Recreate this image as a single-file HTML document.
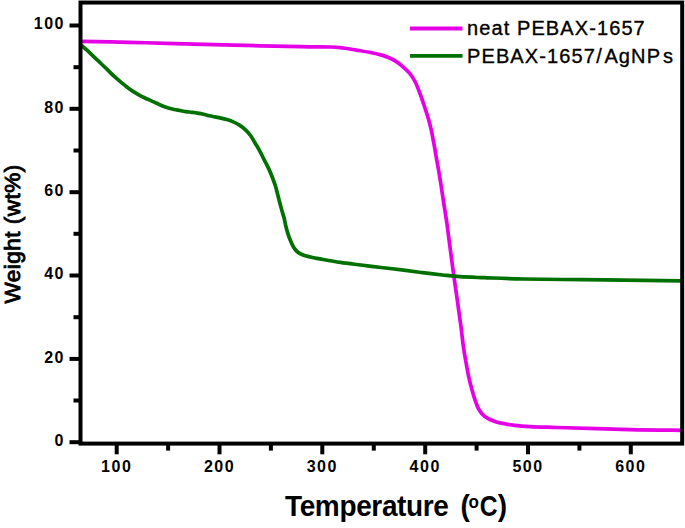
<!DOCTYPE html>
<html><head><meta charset="utf-8"><style>
html,body{margin:0;padding:0;background:#fff;}
svg{display:block;}
text{font-family:"Liberation Sans",sans-serif;}
</style></head><body>
<svg width="685" height="528" viewBox="0 0 685 528">
<rect width="685" height="528" fill="#fff"/>
<path d="M81.00,41.30 C89.00,41.47 113.33,41.92 129.00,42.30 C144.67,42.68 157.50,43.12 175.00,43.60 C192.50,44.08 213.00,44.70 234.00,45.20 C255.00,45.70 285.00,46.30 301.00,46.60 C317.00,46.90 322.98,46.77 330.00,47.00 C337.02,47.23 338.72,47.48 343.10,48.00 C347.48,48.52 351.92,49.38 356.30,50.10 C360.68,50.82 365.02,51.42 369.40,52.30 C373.78,53.18 379.32,54.48 382.60,55.40 C385.88,56.32 386.93,56.85 389.10,57.80 C391.27,58.75 393.37,59.68 395.60,61.10 C397.83,62.52 400.18,64.28 402.50,66.30 C404.82,68.32 407.42,70.67 409.50,73.20 C411.58,75.73 413.25,78.12 415.00,81.50 C416.75,84.88 418.45,89.42 420.00,93.50 C421.55,97.58 422.95,101.95 424.30,106.00 C425.65,110.05 426.98,113.98 428.10,117.80 C429.22,121.62 430.20,125.48 431.00,128.90 C431.80,132.32 432.23,134.83 432.90,138.30 C433.57,141.77 434.45,146.58 435.00,149.70 C435.55,152.82 435.60,153.57 436.20,157.00 C436.80,160.43 437.78,165.55 438.60,170.30 C439.42,175.05 440.32,180.50 441.10,185.50 C441.88,190.50 442.35,194.10 443.30,200.30 C444.25,206.50 445.72,215.17 446.80,222.70 C447.88,230.23 448.80,237.92 449.80,245.50 C450.80,253.08 451.77,260.63 452.80,268.20 C453.83,275.77 454.88,282.95 456.00,290.90 C457.12,298.85 458.60,309.38 459.50,315.90 C460.40,322.42 460.77,325.00 461.40,330.00 C462.03,335.00 462.55,340.60 463.30,345.90 C464.05,351.20 464.97,356.50 465.90,361.80 C466.83,367.10 467.90,373.07 468.90,377.70 C469.90,382.33 470.90,385.95 471.90,389.60 C472.90,393.25 473.73,396.28 474.90,399.60 C476.07,402.92 477.25,406.68 478.90,409.50 C480.55,412.32 482.15,414.50 484.80,416.50 C487.45,418.50 491.48,420.28 494.80,421.50 C498.12,422.72 501.40,423.15 504.70,423.80 C508.00,424.45 510.38,424.93 514.60,425.40 C518.82,425.87 522.93,426.25 530.00,426.60 C537.07,426.95 540.33,427.00 557.00,427.50 C573.67,428.00 609.25,429.13 630.00,429.60 C650.75,430.07 672.92,430.18 681.50,430.30" fill="none" stroke="#e600e6" stroke-width="3.7" stroke-linejoin="round"/>
<path d="M81.50,45.20 C82.50,46.12 84.93,48.28 87.50,50.70 C90.07,53.12 93.75,56.70 96.90,59.70 C100.05,62.70 103.55,65.95 106.40,68.70 C109.25,71.45 111.45,73.85 114.00,76.20 C116.55,78.55 119.45,80.92 121.70,82.80 C123.95,84.68 125.55,86.03 127.50,87.50 C129.45,88.97 131.45,90.33 133.40,91.60 C135.35,92.87 137.27,94.03 139.20,95.10 C141.13,96.17 143.05,97.08 145.00,98.00 C146.95,98.92 148.95,99.72 150.90,100.60 C152.85,101.48 154.75,102.40 156.70,103.30 C158.65,104.20 160.65,105.22 162.60,106.00 C164.55,106.78 166.47,107.42 168.40,108.00 C170.33,108.58 172.27,109.08 174.20,109.50 C176.13,109.92 178.05,110.15 180.00,110.50 C181.95,110.85 183.95,111.30 185.90,111.60 C187.85,111.90 189.77,112.05 191.70,112.30 C193.63,112.55 195.55,112.78 197.50,113.10 C199.45,113.42 201.45,113.75 203.40,114.20 C205.35,114.65 207.27,115.35 209.20,115.80 C211.13,116.25 213.05,116.52 215.00,116.90 C216.95,117.28 218.95,117.65 220.90,118.10 C222.85,118.55 224.75,119.02 226.70,119.60 C228.65,120.18 230.65,120.78 232.60,121.60 C234.55,122.42 236.47,123.33 238.40,124.50 C240.33,125.67 242.18,126.77 244.20,128.60 C246.22,130.43 248.67,133.07 250.50,135.50 C252.33,137.93 253.67,140.65 255.20,143.20 C256.73,145.75 258.20,148.03 259.70,150.80 C261.20,153.57 262.68,156.78 264.20,159.80 C265.72,162.82 267.40,165.87 268.80,168.90 C270.20,171.93 271.47,175.07 272.60,178.00 C273.73,180.93 274.73,183.67 275.60,186.50 C276.47,189.33 277.07,192.17 277.80,195.00 C278.53,197.83 279.28,200.78 280.00,203.50 C280.72,206.22 281.40,208.82 282.10,211.30 C282.80,213.78 283.60,216.03 284.20,218.40 C284.80,220.77 285.13,223.13 285.70,225.50 C286.27,227.87 286.85,230.18 287.60,232.60 C288.35,235.02 289.22,237.60 290.20,240.00 C291.18,242.40 292.37,245.08 293.50,247.00 C294.63,248.92 295.42,250.18 297.00,251.50 C298.58,252.82 300.40,253.90 303.00,254.90 C305.60,255.90 309.77,256.83 312.60,257.50 C315.43,258.17 315.37,258.08 320.00,258.90 C324.63,259.72 333.58,261.38 340.40,262.40 C347.22,263.42 354.08,264.15 360.90,265.00 C367.72,265.85 374.48,266.68 381.30,267.50 C388.12,268.32 394.98,269.05 401.80,269.90 C408.62,270.75 415.40,271.75 422.20,272.60 C429.00,273.45 436.30,274.32 442.60,275.00 C448.90,275.68 453.10,276.25 460.00,276.70 C466.90,277.15 473.50,277.32 484.00,277.70 C494.50,278.08 506.50,278.67 523.00,279.00 C539.50,279.33 563.00,279.48 583.00,279.70 C603.00,279.92 626.58,280.10 643.00,280.30 C659.42,280.50 675.08,280.80 681.50,280.90" fill="none" stroke="#007000" stroke-width="3.7" stroke-linejoin="round"/>
<g stroke="#000" stroke-width="4" fill="none">
<rect x="80.5" y="2.55" width="601.7" height="441.05"/>
<line x1="69.5" y1="442.2" x2="80.5" y2="442.2"/>
<line x1="73.5" y1="400.5" x2="80.5" y2="400.5"/>
<line x1="69.5" y1="358.9" x2="80.5" y2="358.9"/>
<line x1="73.5" y1="317.2" x2="80.5" y2="317.2"/>
<line x1="69.5" y1="275.5" x2="80.5" y2="275.5"/>
<line x1="73.5" y1="233.8" x2="80.5" y2="233.8"/>
<line x1="69.5" y1="192.2" x2="80.5" y2="192.2"/>
<line x1="73.5" y1="150.5" x2="80.5" y2="150.5"/>
<line x1="69.5" y1="108.8" x2="80.5" y2="108.8"/>
<line x1="73.5" y1="67.2" x2="80.5" y2="67.2"/>
<line x1="69.5" y1="25.5" x2="80.5" y2="25.5"/>
<line x1="116.7" y1="443.6" x2="116.7" y2="454.3"/>
<line x1="168.1" y1="443.6" x2="168.1" y2="450.6"/>
<line x1="219.5" y1="443.6" x2="219.5" y2="454.3"/>
<line x1="270.9" y1="443.6" x2="270.9" y2="450.6"/>
<line x1="322.3" y1="443.6" x2="322.3" y2="454.3"/>
<line x1="373.8" y1="443.6" x2="373.8" y2="450.6"/>
<line x1="425.2" y1="443.6" x2="425.2" y2="454.3"/>
<line x1="476.6" y1="443.6" x2="476.6" y2="450.6"/>
<line x1="528.0" y1="443.6" x2="528.0" y2="454.3"/>
<line x1="579.4" y1="443.6" x2="579.4" y2="450.6"/>
<line x1="630.8" y1="443.6" x2="630.8" y2="454.3"/>
</g>
<g font-size="16" font-weight="bold" letter-spacing="1.5" fill="#000">
<text x="65" y="29.1" text-anchor="end">100</text>
<text x="65" y="112.9" text-anchor="end">80</text>
<text x="65" y="195.6" text-anchor="end">60</text>
<text x="65" y="279.1" text-anchor="end">40</text>
<text x="65" y="363.2" text-anchor="end">20</text>
<text x="65" y="445.6" text-anchor="end">0</text>
<text x="116.7" y="471.6" text-anchor="middle">100</text>
<text x="219.5" y="471.6" text-anchor="middle">200</text>
<text x="322.3" y="471.6" text-anchor="middle">300</text>
<text x="425.2" y="471.6" text-anchor="middle">400</text>
<text x="528.0" y="471.6" text-anchor="middle">500</text>
<text x="630.8" y="471.6" text-anchor="middle">600</text>
</g>
<line x1="410" y1="28.5" x2="462.5" y2="28.5" stroke="#e600e6" stroke-width="3.8"/>
<line x1="410" y1="55.9" x2="462.5" y2="55.9" stroke="#007000" stroke-width="3.8"/>
<g font-size="20" letter-spacing="1.1" fill="#000" stroke="#000" stroke-width="0.35">
<text x="467" y="35.3">neat PEBAX-1657</text>
<text x="467" y="62.6">PEBAX-1657<tspan dx="0.3">/</tspan><tspan dx="1.6">AgNP</tspan><tspan dx="2">s</tspan></text>
</g>
<text transform="translate(19.6,303.5) rotate(-90)" font-size="22.5" font-weight="normal" fill="#000" stroke="#000" stroke-width="0.9" letter-spacing="0.5">Weight (wt%)</text>
<g transform="translate(0,516) scale(1,1.05)" font-size="28" font-weight="bold" fill="#000">
<text x="285" y="0" letter-spacing="-0.35">Temperature</text>
<text x="460.5" y="0">(</text>
<text x="468.5" y="-7.3" font-size="17">o</text>
<text x="479.8" y="0" textLength="17.8" lengthAdjust="spacingAndGlyphs">C</text>
<text x="497.8" y="0">)</text>
</g>
</svg>
</body></html>
